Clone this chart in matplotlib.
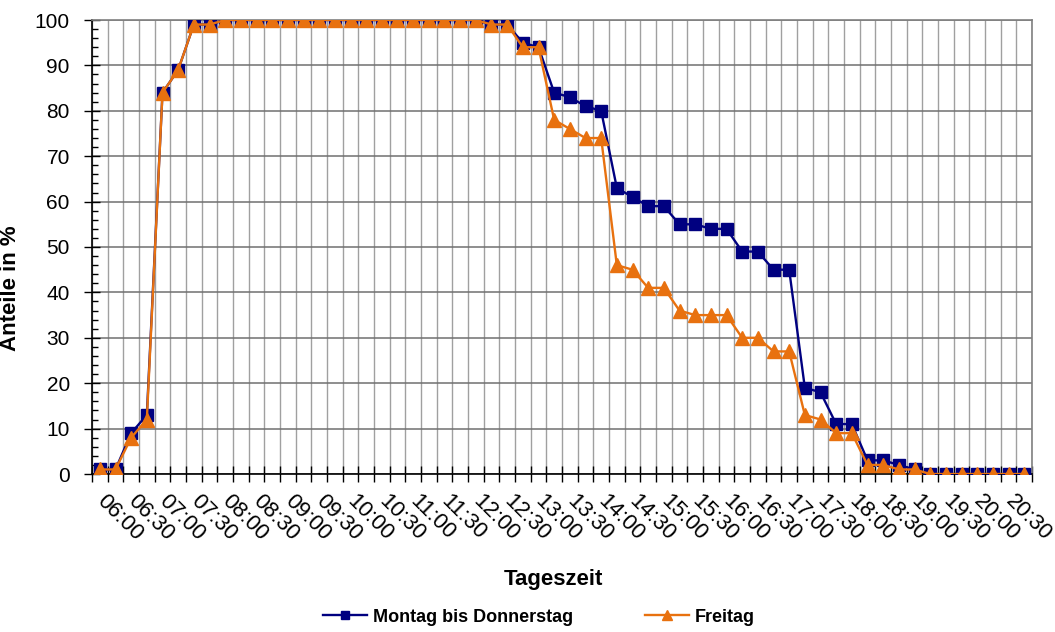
import matplotlib.pyplot as plt

plt.rcParams['font.family'] = ['Liberation Sans', 'DejaVu Sans']

# 15-minute slots from 06:00 to 20:45
zeiten = ['%02d:%02d' % (6 + i // 4, (i % 4) * 15) for i in range(60)]

montag_donnerstag = [1, 1, 9, 13, 84, 89, 99, 99,
                     100, 100, 100, 100, 100, 100, 100, 100,
                     100, 100, 100, 100, 100, 100, 100, 100,
                     100, 99, 99, 95, 94, 84, 83, 81,
                     80, 63, 61, 59, 59, 55, 55, 54,
                     54, 49, 49, 45, 45, 19, 18, 11,
                     11, 3, 3, 2, 1, 0, 0, 0,
                     0, 0, 0, 0]
freitag = [1, 1, 8, 12, 84, 89, 99, 99,
           100, 100, 100, 100, 100, 100, 100, 100,
           100, 100, 100, 100, 100, 100, 100, 100,
           100, 99, 99, 94, 94, 78, 76, 74,
           74, 46, 45, 41, 41, 36, 35, 35,
           35, 30, 30, 27, 27, 13, 12, 9,
           9, 2, 2, 1, 1, 0, 0, 0,
           0, 0, 0, 0]

x = list(range(len(zeiten)))

fig = plt.figure(figsize=(10.55, 6.32), dpi=100)
ax = fig.add_axes([92 / 1055, 158 / 632, 940 / 1055, 454 / 632])

ax.plot(x, montag_donnerstag, color='#000080', lw=1.7, marker='s', ms=8.5,
        label='Montag bis Donnerstag', zorder=3)
ax.plot(x, freitag, color='#E8710F', lw=1.7, marker='^', ms=9.5,
        label='Freitag', zorder=4)

ax.set_xlim(-0.5, len(x) - 0.5)
ax.set_ylim(0, 100)

# grid lines at category boundaries, labels at every second category
ax.set_xticks([i - 0.5 for i in range(len(x) + 1)])
ax.set_xticklabels([])
ax.set_xticks(x[::2], zeiten[::2], minor=True)
ax.tick_params(axis='x', which='major', direction='inout', length=12, width=1)
ax.tick_params(axis='x', which='minor', length=0, pad=17, labelsize=16)
for lab in ax.get_xticklabels(minor=True):
    lab.set_rotation(-45)
    lab.set_ha('left')
    lab.set_va('center')
    lab.set_rotation_mode('anchor')

ax.set_yticks(range(0, 101, 10))
ax.set_yticks(range(0, 101, 2), minor=True)
ax.tick_params(axis='y', which='major', direction='inout', length=12, width=1,
               pad=10, labelsize=15)
ax.tick_params(axis='y', which='minor', direction='in', length=4, width=1)

ax.grid(True, axis='x', which='major', color='#a0a0a0', lw=1)
ax.grid(True, axis='y', which='major', color='#707070', lw=1.1)
ax.set_axisbelow(True)

ax.spines['left'].set_color('black')
ax.spines['bottom'].set_color('black')
ax.spines['top'].set_color('#808080')
ax.spines['right'].set_color('#808080')
for s in ax.spines.values():
    s.set_linewidth(1.2)

ax.set_ylabel('Anteile in %', fontsize=16, fontweight='bold')
ax.yaxis.set_label_coords((21 - 92) / 940, (474 - 288) / 454)
ax.set_xlabel('Tageszeit', fontsize=16, fontweight='bold')
ax.xaxis.set_label_coords((553 - 92) / 940, (474 - 569) / 454)

fig.legend(loc='center', bbox_to_anchor=(539 / 1055, 1 - 617 / 632), ncol=2,
           frameon=False, prop={'size': 13, 'weight': 'bold'},
           handlelength=2.4, handletextpad=0.35, columnspacing=4.0,
           markerscale=0.75)

fig.savefig('out.png', dpi=100)
